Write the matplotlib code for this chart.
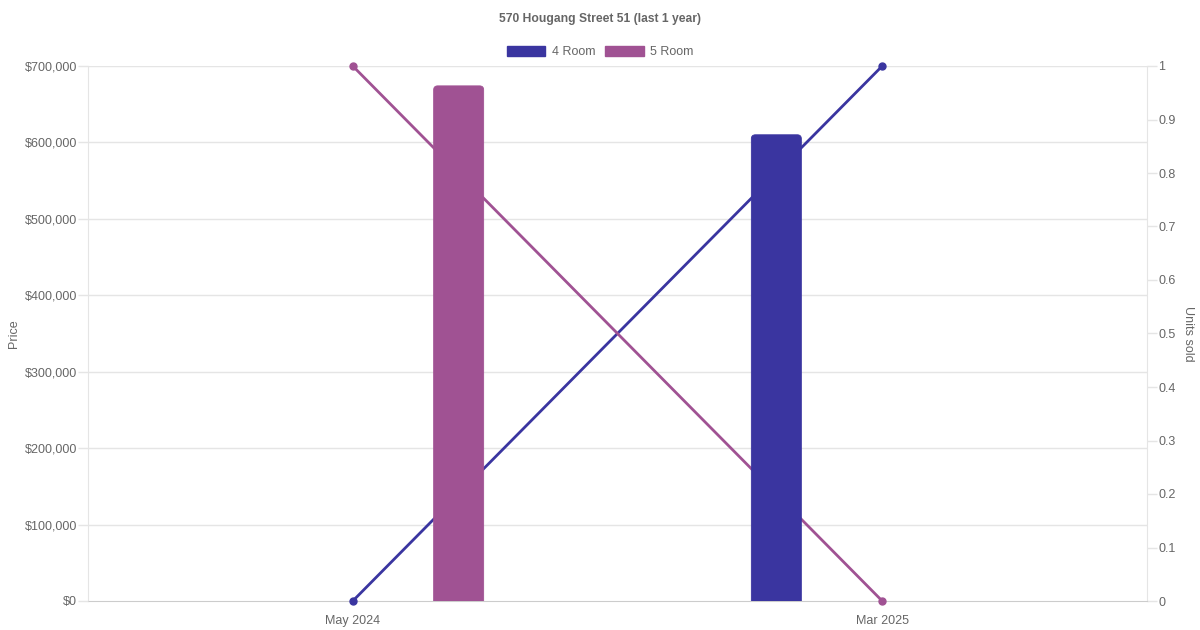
import matplotlib.pyplot as plt
from matplotlib.patches import FancyBboxPatch, Patch
from matplotlib.ticker import FuncFormatter, MultipleLocator
import numpy as np

# data
months = ["May 2024", "Mar 2025"]
series = ["4 Room", "5 Room"]
colors = ["#3a35a0", "#a05293"]
price_4room = [np.nan, 610000]
price_5room = [674000, np.nan]
units_4room = [0, 1]
units_5room = [1, 0]

plt.rcParams['font.family'] = ['Liberation Sans', 'DejaVu Sans']
TXT = "#666666"
GRID = "#e5e5e5"

W, H = 1200, 630
fig = plt.figure(figsize=(W / 100, H / 100), dpi=100)
pos = [88 / W, (H - 601) / H, (1147 - 88) / W, (601 - 66) / H]

# lines axis underneath, bars axis on top
ax_l = fig.add_axes(pos)
ax_b = ax_l.twinx()

x = np.arange(len(months))
ax_l.set_xlim(-0.5, len(months) - 0.5)
ax_b.set_ylim(0, 700000)
ax_l.set_ylim(0, 1)

# horizontal grid of the price axis, drawn under the lines
for k in range(1, 8):
    ax_l.axhline(k / 7, color=GRID, lw=1, zorder=1)

# lines
for vals, c in zip([units_4room, units_5room], colors):
    ax_l.plot(x, vals, color=c, lw=2, marker="o", ms=5, clip_on=False,
              zorder=3)

# rounded bars
px_per_cat = (1147 - 88) / len(months)
bar_w = 50 / px_per_cat
offsets = [-0.2, 0.2]
y_per_px = 700000 / (601 - 66)
x_per_px = 1 / px_per_cat
for vals, c, off in zip([price_4room, price_5room], colors, offsets):
    for xi, v in zip(x, vals):
        if np.isnan(v):
            continue
        r = 4 * x_per_px
        p = FancyBboxPatch((xi + off - bar_w / 2, -20 * y_per_px), bar_w,
                           v + 20 * y_per_px,
                           boxstyle="round,pad=0,rounding_size=%f" % r,
                           mutation_aspect=y_per_px / x_per_px,
                           fc=c, ec=c, lw=0.6, zorder=2)
        ax_b.add_patch(p)

# y axes
ax_b.yaxis.set_label_position("left")
ax_b.yaxis.tick_left()
ax_l.yaxis.set_label_position("right")
ax_l.yaxis.tick_right()
ax_b.yaxis.set_major_locator(MultipleLocator(100000))
ax_b.yaxis.set_major_formatter(FuncFormatter(lambda v, p: "${:,.0f}".format(v)))
ax_l.yaxis.set_major_locator(MultipleLocator(0.1))
ax_l.yaxis.set_major_formatter(FuncFormatter(lambda v, p: "{:g}".format(round(v, 1))))

for a in (ax_l, ax_b):
    a.tick_params(axis="y", length=7, width=1, color=GRID, labelcolor=TXT,
                  labelsize=9, pad=1)
    a.patch.set_visible(False)
for s in ax_b.spines.values():
    s.set_visible(False)
for s in ax_l.spines.values():
    s.set_color(GRID)
ax_l.spines["top"].set_visible(False)
ax_l.spines["bottom"].set_color("#cccccc")

ax_l.set_xticks(x)
ax_l.set_xticklabels(months)
ax_l.tick_params(axis="x", length=0, pad=10, labelcolor=TXT, labelsize=9)

ax_b.set_ylabel("Price", color=TXT, fontsize=9, labelpad=3)
ax_l.set_ylabel("Units sold", color=TXT, fontsize=9, rotation=270,
                labelpad=13)

# title and legend
fig.text(0.5, 1 - 19 / H, "570 Hougang Street 51 (last 1 year)", ha="center",
         va="center", fontsize=8.7, fontweight="bold", color=TXT)
handles = [Patch(fc=c, ec=c) for c in colors]
fig.legend(handles, series, loc="center", bbox_to_anchor=(0.5, 1 - 52 / H),
           ncol=2, frameon=False, fontsize=9, labelcolor=TXT,
           handlelength=3.1, handleheight=0.9, handletextpad=0.5,
           columnspacing=0.8)

fig.savefig("out.png", dpi=100)
